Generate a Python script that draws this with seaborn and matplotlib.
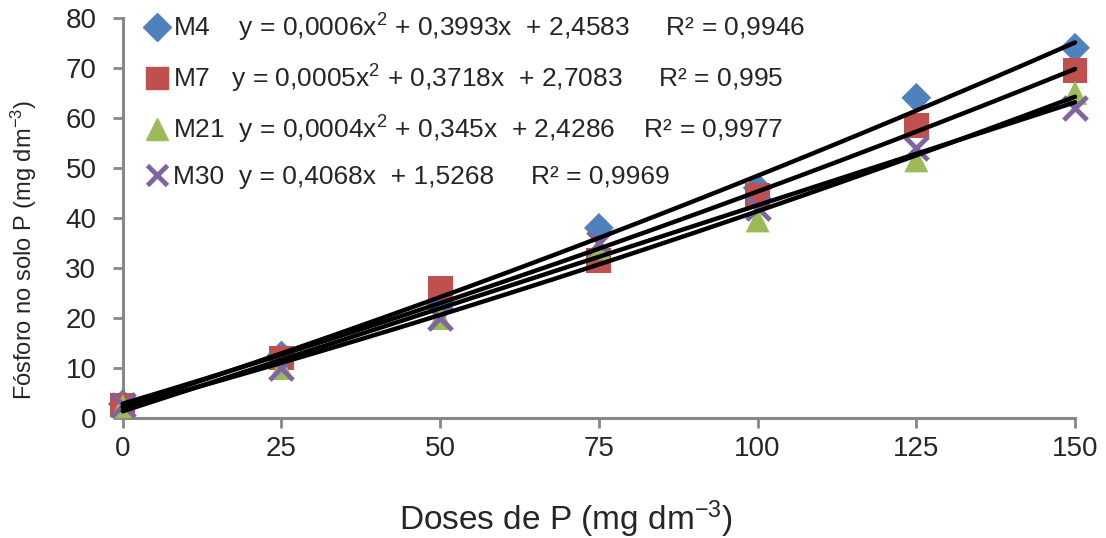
import numpy as np
import pandas as pd
import matplotlib
matplotlib.use("Agg")
import matplotlib.pyplot as plt
import seaborn as sns
from matplotlib.lines import Line2D

# Doses de P and soil P readings for each treatment
doses = [0, 25, 50, 75, 100, 125, 150]
m4 = [2.8, 12.5, 23.0, 38.0, 46.0, 64.0, 74.0]
m7 = [2.6, 12.0, 26.0, 31.5, 44.5, 58.5, 69.5]
m21 = [2.4, 10.0, 20.0, 34.0, 39.5, 51.5, 65.0]
m30 = [2.6, 10.0, 20.0, 35.0, 42.0, 54.0, 62.0]

# degree of the trend line fitted for each treatment
degree = {"M4": 2, "M7": 2, "M21": 2, "M30": 1}
labels = {
    "M4": "M4    y = 0,0006x$^2$ + 0,3993x  + 2,4583     R² = 0,9946",
    "M7": "M7   y = 0,0005x$^2$ + 0,3718x  + 2,7083     R² = 0,995",
    "M21": "M21  y = 0,0004x$^2$ + 0,345x  + 2,4286    R² = 0,9977",
    "M30": "M30  y = 0,4068x  + 1,5268     R² = 0,9969",
}
order = ["M4", "M7", "M21", "M30"]

colors = {"M4": "#4F81BD", "M7": "#C0504D", "M21": "#9BBB59", "M30": "#8064A2"}
markers = {"M4": "D", "M7": "s", "M21": "^", "M30": "X"}
sizes = {"M4": 230, "M7": 320, "M21": 300, "M30": 280}

df = pd.DataFrame({
    "dose": doses * 4,
    "P": m4 + m7 + m21 + m30,
    "trat": ["M4"] * 7 + ["M7"] * 7 + ["M21"] * 7 + ["M30"] * 7,
})

sns.set_style("white")
plt.rcParams["font.family"] = ["Liberation Sans Narrow", "Liberation Sans", "DejaVu Sans"]
plt.rcParams["mathtext.default"] = "regular"

fig = plt.figure(figsize=(11.06, 5.38), dpi=100)
ax = fig.add_axes([0.111, 0.223, 0.861, 0.744])

for t in order:
    sub = df[df.trat == t]
    if t == "M30":
        sns.scatterplot(data=sub, x="dose", y="P", ax=ax, marker="x", s=sizes[t],
                        color=colors[t], linewidth=3.5, clip_on=False, zorder=3)
    else:
        sns.scatterplot(data=sub, x="dose", y="P", ax=ax, marker=markers[t], s=sizes[t],
                        color=colors[t], edgecolor="none", clip_on=False, zorder=3)

# trend lines fitted to each series
xx = np.linspace(0, 150, 200)
for t in order:
    sub = df[df.trat == t]
    c = np.polyfit(sub["dose"], sub["P"], degree[t])
    ax.plot(xx, np.polyval(c, xx), color="black", lw=3.2, zorder=4, clip_on=False)

ax.set_xlim(0, 150)
ax.set_ylim(0, 80)
ax.set_xticks(doses)
ax.set_yticks(range(0, 81, 10))
ax.tick_params(axis="both", labelsize=20, color="#888888", direction="out",
               length=7, width=2, bottom=True, left=True, pad=6)
ax.tick_params(axis="y", pad=12)
for s in ["top", "right"]:
    ax.spines[s].set_visible(False)
for s in ["left", "bottom"]:
    ax.spines[s].set_color("#888888")
    ax.spines[s].set_linewidth(2.2)

ax.set_xlabel("Doses de P (mg dm$^{-3}$)", fontsize=24, labelpad=16)
ax.xaxis.set_label_coords(0.465, -0.2)
ax.set_ylabel("Fósforo no solo P (mg dm$^{-3}$)", fontsize=17)
ax.yaxis.set_label_coords(-0.088, 0.42)

handles = []
for t in order:
    if t == "M30":
        h = Line2D([], [], ls="none", marker="x", color=colors[t], ms=14, mew=3.5)
    else:
        h = Line2D([], [], ls="none", marker=markers[t], color=colors[t], ms=16 if t != "M4" else 14)
    handles.append(h)
ax.legend(handles, [labels[t] for t in order], loc="upper left",
          bbox_to_anchor=(0.0, 1.062), frameon=False, fontsize=19, handletextpad=0.0,
          handlelength=1.2, labelspacing=0.72, borderpad=0.2)

fig.savefig("out.png", dpi=100)
